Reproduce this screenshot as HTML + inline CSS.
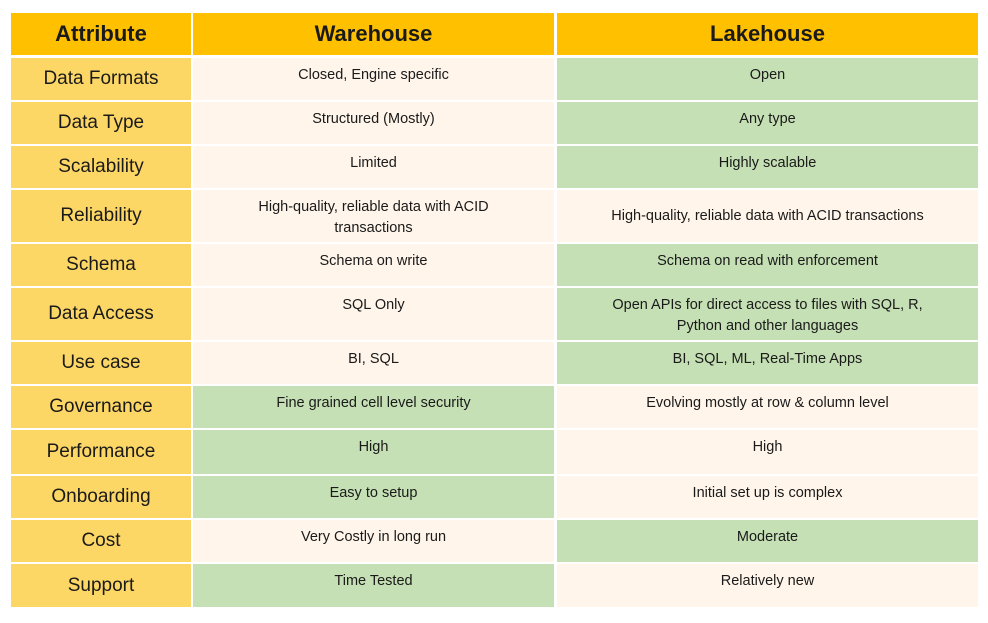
<!DOCTYPE html>
<html><head><style>
body{margin:0;width:988px;height:623px;background:#fff;position:relative;overflow:hidden;font-family:"Liberation Sans",sans-serif;color:#1a1a1a}
.c{position:absolute;box-sizing:border-box;text-align:center}
.h{background:#FFC000;font-weight:bold;font-size:22px;line-height:42px}
.a{background:#FDD766;font-size:19px;display:flex;align-items:center;justify-content:center}
.w{background:#FFF5EA;font-size:14.5px;padding-top:7px;line-height:21px}
.g{background:#C5E0B4;font-size:14.5px;padding-top:7px;line-height:21px}
</style></head><body>
<div class="c h" style="left:11px;top:13px;width:180px;height:42px">Attribute</div>
<div class="c h" style="left:193px;top:13px;width:361px;height:42px">Warehouse</div>
<div class="c h" style="left:557px;top:13px;width:421px;height:42px">Lakehouse</div>

<div class="c a" style="left:11px;top:58px;width:180px;height:42px">Data Formats</div>
<div class="c w" style="left:193px;top:58px;width:361px;height:42px">Closed, Engine specific</div>
<div class="c g" style="left:557px;top:58px;width:421px;height:42px">Open</div>

<div class="c a" style="left:11px;top:102px;width:180px;height:42px">Data Type</div>
<div class="c w" style="left:193px;top:102px;width:361px;height:42px">Structured (Mostly)</div>
<div class="c g" style="left:557px;top:102px;width:421px;height:42px">Any type</div>

<div class="c a" style="left:11px;top:146px;width:180px;height:42px">Scalability</div>
<div class="c w" style="left:193px;top:146px;width:361px;height:42px">Limited</div>
<div class="c g" style="left:557px;top:146px;width:421px;height:42px">Highly scalable</div>

<div class="c a" style="left:11px;top:190px;width:180px;height:52px">Reliability</div>
<div class="c w" style="left:193px;top:190px;width:361px;height:52px;padding-left:30px;padding-right:30px">High-quality, reliable data with ACID transactions</div>
<div class="c w" style="left:557px;top:190px;width:421px;height:52px;padding-top:16px">High-quality, reliable data with ACID transactions</div>

<div class="c a" style="left:11px;top:244px;width:180px;height:42px">Schema</div>
<div class="c w" style="left:193px;top:244px;width:361px;height:42px">Schema on write</div>
<div class="c g" style="left:557px;top:244px;width:421px;height:42px">Schema on read with enforcement</div>

<div class="c a" style="left:11px;top:288px;width:180px;height:52px">Data Access</div>
<div class="c w" style="left:193px;top:288px;width:361px;height:52px">SQL Only</div>
<div class="c g" style="left:557px;top:288px;width:421px;height:52px;padding-left:55px;padding-right:55px">Open APIs for direct access to files with SQL, R, Python and other languages</div>

<div class="c a" style="left:11px;top:342px;width:180px;height:42px">Use case</div>
<div class="c w" style="left:193px;top:342px;width:361px;height:42px">BI, SQL</div>
<div class="c g" style="left:557px;top:342px;width:421px;height:42px">BI, SQL, ML, Real-Time Apps</div>

<div class="c a" style="left:11px;top:386px;width:180px;height:42px">Governance</div>
<div class="c g" style="left:193px;top:386px;width:361px;height:42px">Fine grained cell level security</div>
<div class="c w" style="left:557px;top:386px;width:421px;height:42px">Evolving mostly at row &amp; column level</div>

<div class="c a" style="left:11px;top:430px;width:180px;height:44px">Performance</div>
<div class="c g" style="left:193px;top:430px;width:361px;height:44px">High</div>
<div class="c w" style="left:557px;top:430px;width:421px;height:44px">High</div>

<div class="c a" style="left:11px;top:476px;width:180px;height:42px">Onboarding</div>
<div class="c g" style="left:193px;top:476px;width:361px;height:42px">Easy to setup</div>
<div class="c w" style="left:557px;top:476px;width:421px;height:42px">Initial set up is complex</div>

<div class="c a" style="left:11px;top:520px;width:180px;height:42px">Cost</div>
<div class="c w" style="left:193px;top:520px;width:361px;height:42px">Very Costly in long run</div>
<div class="c g" style="left:557px;top:520px;width:421px;height:42px">Moderate</div>

<div class="c a" style="left:11px;top:564px;width:180px;height:43px">Support</div>
<div class="c g" style="left:193px;top:564px;width:361px;height:43px">Time Tested</div>
<div class="c w" style="left:557px;top:564px;width:421px;height:43px">Relatively new</div>
</body></html>
